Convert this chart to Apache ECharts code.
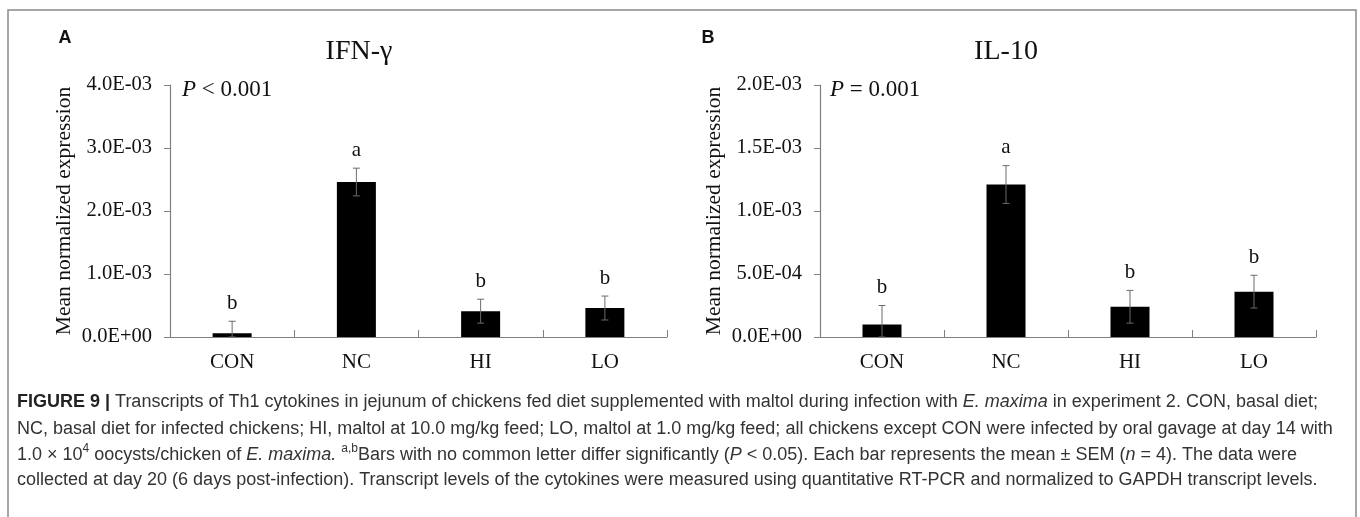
<!DOCTYPE html>
<html>
<head>
<meta charset="utf-8">
<script src="https://cdn.jsdelivr.net/npm/echarts@6/dist/echarts.min.js"></script>
<style>
html, body { margin: 0; padding: 0; background: #fff; }
#main { width: 1360px; height: 517px; }
</style>
</head>
<body>
<div id="main"></div>
<script>
// groups
var categories = ['CON', 'NC', 'HI', 'LO'];

// IFN-gamma (panel A)
var ifnMean = [0.06e-3, 2.46e-3, 0.41e-3, 0.46e-3];
var ifnSem = [0.19e-3, 0.22e-3, 0.19e-3, 0.19e-3];
var ifnLetters = ['b', 'a', 'b', 'b'];
var ifnTicks = [0, 4e-3, 1e-3];   // min, max, interval

// IL-10 (panel B)
var il10Mean = [0.10e-3, 1.21e-3, 0.24e-3, 0.36e-3];
var il10Sem = [0.15e-3, 0.15e-3, 0.13e-3, 0.13e-3];
var il10Letters = ['b', 'a', 'b', 'b'];
var il10Ticks = [0, 2e-3, 5e-4];

var serif = 'Liberation Serif';
var sans = 'Liberation Sans';

//刻度格式 4.0E-03
function sci(v) {
    var m = v.toExponential(1).toUpperCase().split('E');
    var e = parseInt(m[1], 10);
    var a = Math.abs(e);
    return m[0] + 'E' + (e < 0 ? '-' : '+') + (a < 10 ? '0' + a : a);
}

function errData(mean, sem) {
    var out = [];
    for (var i = 0; i < mean.length; i++) out.push([i, mean[i], sem[i]]);
    return out;
}

//误差线 + 显著性字母
function errRender(letters) {
    return function (params, api) {
        var i = api.value(0);
        var mean = api.value(1);
        var s = api.value(2);
        var top = api.coord([i, mean + s]);
        var bot = api.coord([i, Math.max(mean - s, 0)]);
        var w = 3.5;
        var st = { stroke: '#6b6b6b', lineWidth: 1 };
        return {
            type: 'group',
            children: [
                { type: 'line', shape: { x1: top[0], y1: top[1], x2: bot[0], y2: bot[1] }, style: st },
                { type: 'line', shape: { x1: top[0] - w, y1: top[1], x2: top[0] + w, y2: top[1] }, style: st },
                { type: 'line', shape: { x1: bot[0] - w, y1: bot[1], x2: bot[0] + w, y2: bot[1] }, style: st },
                {
                    type: 'text', x: top[0], y: top[1] - 18,
                    style: { text: letters[params.dataIndex], fontFamily: serif, fontSize: 21, fill: '#111', align: 'center', verticalAlign: 'middle' }
                }
            ]
        };
    };
}

function xAxis(idx) {
    return {
        type: 'category', gridIndex: idx, data: categories, boundaryGap: true,
        axisLine: { lineStyle: { color: '#808080', width: 1.2 } },
        axisTick: { show: true, inside: true, length: 7, lineStyle: { color: '#808080' } },
        axisLabel: { fontFamily: serif, fontSize: 21, color: '#111', margin: 15 }
    };
}

function yAxis(idx, ticks) {
    return {
        type: 'value', gridIndex: idx, min: ticks[0], max: ticks[1], interval: ticks[2],
        name: 'Mean normalized expression', nameLocation: 'middle', nameGap: 95,
        nameTextStyle: { fontFamily: serif, fontSize: 21.5, color: '#111' },
        axisLine: { show: true, lineStyle: { color: '#808080', width: 1.2 } },
        axisTick: { show: true, length: 6, lineStyle: { color: '#808080' } },
        splitLine: { show: false },
        axisLabel: { fontFamily: serif, fontSize: 20.5, color: '#111', margin: 18, formatter: sci }
    };
}

function capLine(y, text) {
    return {
        type: 'text', left: 17, top: y - 12,
        style: {
            text: text, fontFamily: sans, fontSize: 18, fill: '#333', lineHeight: 24,
            rich: {
                b: { fontFamily: sans, fontSize: 18, fontWeight: 'bold', fill: '#222', lineHeight: 24 },
                i: { fontFamily: sans, fontSize: 18, fontStyle: 'italic', fill: '#333', lineHeight: 24 },
                sup: { fontFamily: sans, fontSize: 12, fill: '#333', verticalAlign: 'top', lineHeight: 24 }
            }
        }
    };
}

var chart = echarts.init(document.getElementById('main'));
var option = {
    animation: false,
    backgroundColor: '#fff',
    grid: [
        { left: 170, top: 85, width: 497, height: 252 },
        { left: 820, top: 85, width: 496, height: 252 }
    ],
    xAxis: [xAxis(0), xAxis(1)],
    yAxis: [yAxis(0, ifnTicks), yAxis(1, il10Ticks)],
    series: [
        { type: 'bar', xAxisIndex: 0, yAxisIndex: 0, data: ifnMean, barWidth: 39, itemStyle: { color: '#000' } },
        { type: 'bar', xAxisIndex: 1, yAxisIndex: 1, data: il10Mean, barWidth: 39, itemStyle: { color: '#000' } },
        { type: 'custom', xAxisIndex: 0, yAxisIndex: 0, data: errData(ifnMean, ifnSem), encode: { x: 0, y: 1 }, renderItem: errRender(ifnLetters), z: 5 },
        { type: 'custom', xAxisIndex: 1, yAxisIndex: 1, data: errData(il10Mean, il10Sem), encode: { x: 0, y: 1 }, renderItem: errRender(il10Letters), z: 5 }
    ],
    graphic: [
        { type: 'rect', shape: { x: 8, y: 10, width: 1348, height: 530 }, style: { fill: 'none', stroke: '#8a8a8a', lineWidth: 1.5 }, silent: true },
        { type: 'text', x: 65, y: 38, style: { text: 'A', fontFamily: sans, fontWeight: 'bold', fontSize: 18, fill: '#111', align: 'center', verticalAlign: 'middle' } },
        { type: 'text', x: 708, y: 38, style: { text: 'B', fontFamily: sans, fontWeight: 'bold', fontSize: 18, fill: '#111', align: 'center', verticalAlign: 'middle' } },
        { type: 'text', x: 359, y: 52, style: { text: 'IFN-γ', fontFamily: serif, fontSize: 28, fill: '#111', align: 'center', verticalAlign: 'middle' } },
        { type: 'text', x: 1006, y: 52, style: { text: 'IL-10', fontFamily: serif, fontSize: 28, fill: '#111', align: 'center', verticalAlign: 'middle' } },
        {
            type: 'text', x: 182, y: 90,
            style: { text: '{i|P} < 0.001', fontFamily: serif, fontSize: 23, fill: '#111', verticalAlign: 'middle',
                rich: { i: { fontFamily: serif, fontSize: 23, fontStyle: 'italic', fill: '#111' } } }
        },
        {
            type: 'text', x: 830, y: 90,
            style: { text: '{i|P} = 0.001', fontFamily: serif, fontSize: 23, fill: '#111', verticalAlign: 'middle',
                rich: { i: { fontFamily: serif, fontSize: 23, fontStyle: 'italic', fill: '#111' } } }
        },
        capLine(402, '{b|FIGURE 9 |} Transcripts of Th1 cytokines in jejunum of chickens fed diet supplemented with maltol during infection with {i|E. maxima} in experiment 2. CON, basal diet;'),
        capLine(429, 'NC, basal diet for infected chickens; HI, maltol at 10.0 mg/kg feed; LO, maltol at 1.0 mg/kg feed; all chickens except CON were infected by oral gavage at day 14 with'),
        capLine(455, '1.0 × 10{sup|4} oocysts/chicken of {i|E. maxima.} {sup|a,b}Bars with no common letter differ significantly ({i|P} < 0.05). Each bar represents the mean ± SEM ({i|n} = 4). The data were'),
        capLine(480, 'collected at day 20 (6 days post-infection). Transcript levels of the cytokines were measured using quantitative RT-PCR and normalized to GAPDH transcript levels.')
    ]
};
chart.setOption(option);
</script>
</body>
</html>
